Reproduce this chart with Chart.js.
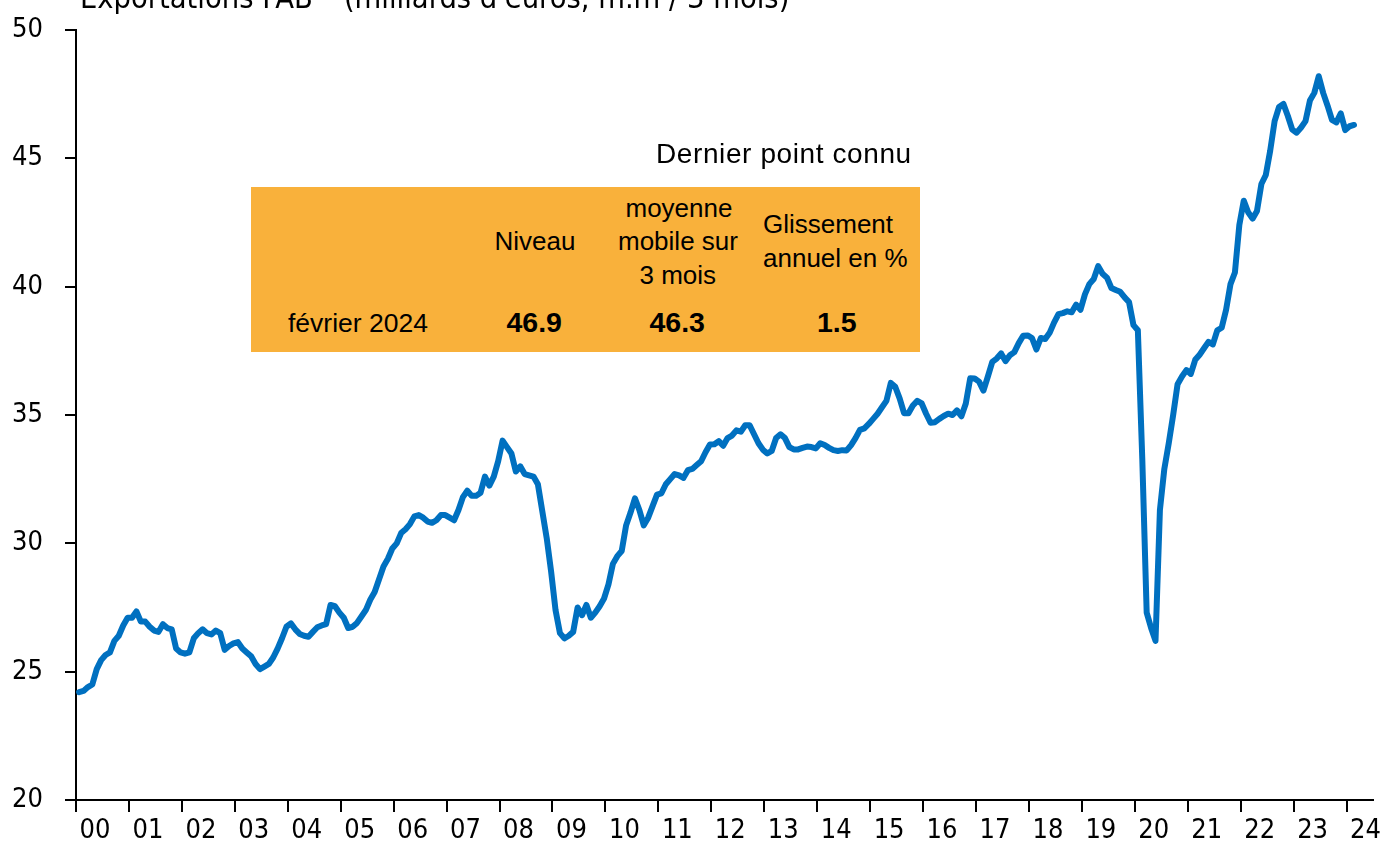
<!DOCTYPE html>
<html><head><meta charset="utf-8">
<script src="https://cdn.jsdelivr.net/npm/chart.js@4"></script>
<style>
html,body{margin:0;padding:0;background:#fff;overflow:hidden}
#wrap{position:relative;width:1380px;height:843px;overflow:hidden}
canvas{position:absolute;left:0;top:0}
.t{position:absolute;font-family:'Liberation Sans',Arial,sans-serif;color:#000;white-space:nowrap;line-height:1}
.ax{font-family:'DejaVu Sans Condensed','DejaVu Sans',sans-serif}
</style></head><body>
<div id="wrap">
<canvas id="c" width="1380" height="843"></canvas>
<div class="t ax" id="title" style="left:80px;top:-16.8px;font-size:30.5px">Exportations FAB*&nbsp; (milliards d'euros, m.m / 3 mois)</div>
<div id="box" style="position:absolute;left:251px;top:187px;width:669px;height:165px;background:#F9B13B"></div>
<div id="texts"></div>
</div>
<script>
// ---- data ----
const xTickYears = [2000,2001,2002,2003,2004,2005,2006,2007,2008,2009,2010,2011,2012,2013,2014,2015,2016,2017,2018,2019,2020,2021,2022,2023,2024];
const xTickLabels = ['00','01','02','03','04','05','06','07','08','09','10','11','12','13','14','15','16','17','18','19','20','21','22','23','24'];
const yTicks = [20,25,30,35,40,45,50];
// monthly 3-month moving average, Jan 2000 .. Feb 2024 (bn EUR)
const exports2000_2004 = [
 24.2,24.25,24.4,24.5,25.1,25.45,25.65,25.75,26.2,26.4,26.8,27.1,
 27.1,27.35,26.95,26.95,26.75,26.6,26.55,26.85,26.7,26.65,25.9,25.75,
 25.7,25.75,26.3,26.5,26.65,26.5,26.45,26.6,26.5,25.85,26.0,26.1,
 26.15,25.9,25.75,25.6,25.3,25.1,25.2,25.3,25.55,25.9,26.3,26.75,
 26.88,26.65,26.47,26.4,26.36,26.55,26.73,26.8,26.85,27.6,27.55,27.3];
const exports2005_2009 = [
 27.1,26.7,26.75,26.9,27.15,27.4,27.8,28.1,28.6,29.1,29.4,29.8,
 30.0,30.4,30.55,30.75,31.05,31.1,31.0,30.85,30.8,30.9,31.1,31.1,
 31.0,30.9,31.3,31.8,32.05,31.85,31.85,31.97,32.6,32.25,32.6,33.2,
 34.0,33.75,33.5,32.8,33.0,32.7,32.65,32.6,32.3,31.25,30.2,28.9,
 27.4,26.5,26.3,26.4,26.55,27.5,27.2,27.6,27.1,27.3,27.55,27.85];
const exports2010_2014 = [
 28.4,29.2,29.5,29.7,30.7,31.2,31.75,31.3,30.7,31.0,31.45,31.9,
 31.95,32.3,32.5,32.7,32.65,32.55,32.85,32.9,33.05,33.2,33.55,33.85,
 33.86,33.98,33.8,34.1,34.2,34.4,34.35,34.6,34.6,34.25,33.9,33.65,
 33.5,33.6,34.1,34.25,34.1,33.75,33.66,33.66,33.72,33.77,33.75,33.7,
 33.9,33.83,33.72,33.63,33.6,33.63,33.62,33.83,34.1,34.42,34.48,34.65];
const exports2015_2019 = [
 34.85,35.05,35.3,35.55,36.25,36.1,35.65,35.07,35.07,35.37,35.55,35.45,
 35.05,34.7,34.72,34.85,34.96,35.05,35.0,35.18,34.95,35.45,36.43,36.42,
 36.3,35.95,36.5,37.07,37.2,37.4,37.1,37.33,37.45,37.8,38.09,38.1,
 38.0,37.55,38.0,37.96,38.2,38.6,38.93,38.97,39.04,39.0,39.3,39.1,
 39.7,40.1,40.3,40.8,40.5,40.35,39.95,39.87,39.8,39.58,39.4,38.5];
const exports2020_2024 = [
 38.3,33.3,27.3,26.7,26.2,31.3,32.9,33.9,35.0,36.2,36.5,36.75,
 36.6,37.15,37.35,37.6,37.85,37.75,38.3,38.4,39.1,40.1,40.55,42.4,
 43.35,42.9,42.65,42.95,44.0,44.35,45.3,46.45,47.0,47.12,46.65,46.12,
 46.0,46.2,46.45,47.25,47.55,48.2,47.55,47.05,46.5,46.4,46.75,46.1,
 46.25,46.3];
const values = [].concat(exports2000_2004, exports2005_2009, exports2010_2014, exports2015_2019, exports2020_2024);
const startYear = 2000;
const months = values.map((v,i)=> (startYear + Math.floor(i/12)) + '-' + String(i%12+1).padStart(2,'0'));

// table texts
const tableTitle = 'Dernier point connu';
const colHeaders = [['Niveau'], ['moyenne','mobile sur','3 mois'], ['Glissement','annuel en %']];
const rowLabel = 'février 2024';
const rowValues = ['46.9','46.3','1.5'];

// ---- build overlay texts ----
const T = document.getElementById('texts');
function addText(txt, x, baseline, size, align, bold, extra){
  const d = document.createElement('div');
  d.className = 't';
  d.textContent = txt;
  d.style.fontSize = size + 'px';
  d.style.top = (baseline - 0.8465*size) + 'px';
  if (bold) d.style.fontWeight = 'bold';
  if (extra) Object.assign(d.style, extra);
  T.appendChild(d);
  if (align === 'center') { d.style.left = (x - d.offsetWidth/2) + 'px'; }
  else if (align === 'right') { d.style.left = (x - d.offsetWidth) + 'px'; }
  else d.style.left = x + 'px';
}
addText(tableTitle, 912, 164, 28, 'right', false, {letterSpacing:'0.6px'});
addText(colHeaders[0][0], 535, 250, 26, 'center');
addText(colHeaders[1][0], 679, 217, 26, 'center');
addText(colHeaders[1][1], 678, 250, 26, 'center');
addText(colHeaders[1][2], 678, 284, 26, 'center');
addText(colHeaders[2][0], 763, 233, 26, 'left');
addText(colHeaders[2][1], 763, 267, 26, 'left');
addText(rowLabel, 358, 332, 26.5, 'center');
addText(rowValues[0], 534, 332, 28.5, 'center', true);
addText(rowValues[1], 677, 332, 28.5, 'center', true);
addText(rowValues[2], 837, 332, 28.5, 'center', true);

// ---- chart ----
const axisFont = {family:"'DejaVu Sans Condensed','DejaVu Sans',sans-serif", size:27};
new Chart(document.getElementById('c'), {
  type:'line',
  data:{
    datasets:[{
      label:'Exportations FAB',
      data: values.map((v,i)=>({x: startYear + (i+0.7)/12, y: v})),
      borderColor:'#0070C0', borderWidth:6, pointRadius:0, tension:0,
      borderJoinStyle:'round', borderCapStyle:'round', fill:false
    }]
  },
  options:{
    responsive:false, animation:false, devicePixelRatio:1,
    layout:{padding:{top:30,right:7,left:12,bottom:0}},
    plugins:{legend:{display:false}, tooltip:{enabled:false}, title:{display:false}},
    scales:{
      x:{type:'linear', min:2000, max:2024.5,
        afterBuildTicks:(s)=>{ s.ticks = xTickYears.map(v=>({value:v})); },
        afterFit:(s)=>{ s.height = 43; },
        grid:{drawOnChartArea:false, drawTicks:true, tickLength:12, color:'#000', lineWidth:2},
        border:{display:true, color:'#000', width:2},
        ticks:{autoSkip:false, maxRotation:0, minRotation:0, labelOffset:19, padding:3, color:'#000', font:axisFont,
          callback:(v)=>{ const k = xTickYears.indexOf(v); return k>=0 ? xTickLabels[k] : ''; }}
      },
      y:{min:20, max:50,
        afterBuildTicks:(s)=>{ s.ticks = yTicks.map(v=>({value:v})); },
        afterFit:(s)=>{ s.width = 64; },
        grid:{drawOnChartArea:false, drawTicks:true, tickLength:11, color:'#000', lineWidth:2},
        border:{display:true, color:'#000', width:2},
        ticks:{padding:0, crossAlign:'far', color:'#000', font:axisFont}
      }
    }
  }
});
</script>
</body></html>
